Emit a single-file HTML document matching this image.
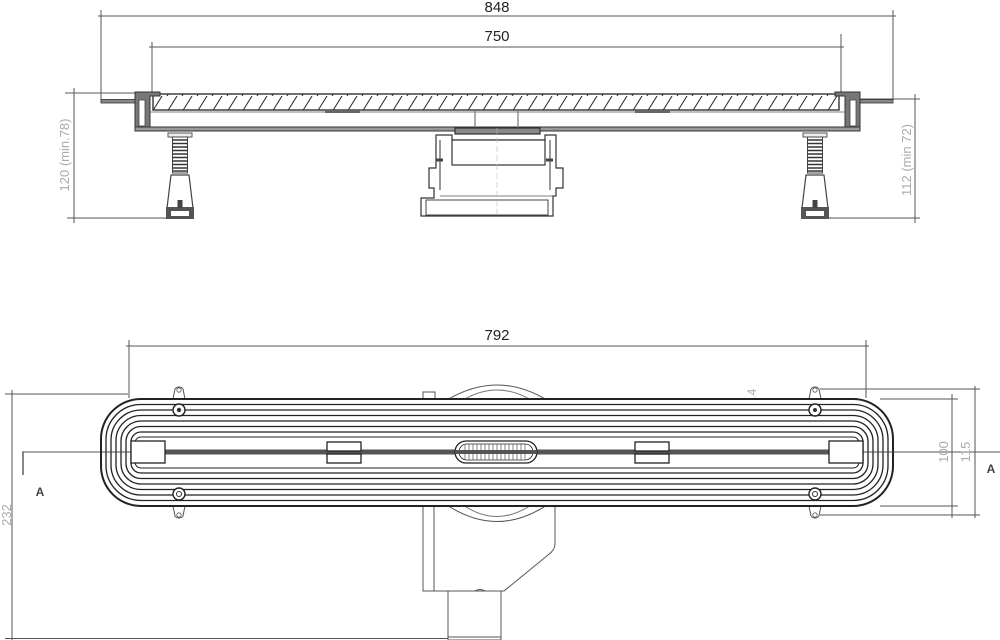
<!DOCTYPE html>
<html><head><meta charset="utf-8"><style>
html,body{margin:0;padding:0;background:#fff;}
svg{display:block;font-family:"Liberation Sans",sans-serif;}
</style></head><body>
<svg width="1000" height="640" viewBox="0 0 1000 640" xmlns="http://www.w3.org/2000/svg">
<defs>
<pattern id="hatch" width="15" height="16" patternUnits="userSpaceOnUse">
<line x1="2" y1="16" x2="12" y2="0" stroke="#333" stroke-width="1.1"/>
</pattern>
<g id="leg">
<rect x="-12" y="133" width="24" height="4" fill="#eee" stroke="#555" stroke-width="1"/>
<rect x="-7.5" y="137" width="15" height="36" fill="#fff" stroke="#444" stroke-width="1"/>
<path d="M-7.5 140 H7.5 M-7.5 143.5 H7.5 M-7.5 147 H7.5 M-7.5 150.5 H7.5 M-7.5 154 H7.5 M-7.5 157.5 H7.5 M-7.5 161 H7.5 M-7.5 164.5 H7.5 M-7.5 168 H7.5 M-7.5 171 H7.5" stroke="#333" stroke-width="1.6"/>
<path d="M-9 175 H9 L13 208 H-13 Z" fill="#fff" stroke="#444" stroke-width="1.2"/>
<rect x="-14" y="207" width="28" height="12" fill="#555"/>
<rect x="-9" y="211" width="18" height="5" fill="#fff"/>
<rect x="-2.5" y="200" width="5" height="8" fill="#444"/>
</g>
<g id="tab">
<path d="M-6 0 L-4 -10 A5 5 0 0 1 4 -10 L6 0 Z" fill="#fff" stroke="#555" stroke-width="1"/>
<circle cx="0" cy="-9" r="2.2" fill="none" stroke="#555" stroke-width="0.8"/>
</g>
</defs>

<!-- ===== TOP VIEW ===== -->
<g stroke="#555" stroke-width="1" fill="none">
<line x1="101" y1="10" x2="101" y2="100"/>
<line x1="893" y1="10" x2="893" y2="100"/>
<line x1="98" y1="16" x2="896" y2="16"/>
<line x1="152" y1="42" x2="152" y2="93"/>
<line x1="841" y1="34" x2="841" y2="93"/>
<line x1="149" y1="47" x2="844" y2="47"/>
<line x1="65" y1="93" x2="135" y2="93"/>
<line x1="67" y1="218" x2="178" y2="218"/>
<line x1="74" y1="88" x2="74" y2="223"/>
<line x1="860" y1="99" x2="920" y2="99"/>
<line x1="815" y1="218" x2="920" y2="218"/>
<line x1="915" y1="94" x2="915" y2="223"/>
</g>
<text x="497" y="12" font-size="15" text-anchor="middle" fill="#222">848</text>
<text x="497" y="41" font-size="15" text-anchor="middle" fill="#222">750</text>
<text transform="translate(69,155) rotate(-90)" font-size="13" text-anchor="middle" fill="#aaa">120 (min.78)</text>
<text transform="translate(911,160) rotate(-90)" font-size="13" text-anchor="middle" fill="#aaa">112 (min 72)</text>

<rect x="153" y="94" width="686" height="16" fill="url(#hatch)" stroke="#333" stroke-width="1.4"/>
<rect x="101" y="99.5" width="34" height="3.5" fill="#888" stroke="#333" stroke-width="0.8"/>
<rect x="860" y="99.5" width="33" height="3.5" fill="#888" stroke="#333" stroke-width="0.8"/>
<path d="M135 92 H160 V96 H150 V128 H135 Z" fill="#777" stroke="#333" stroke-width="1"/>
<rect x="139" y="100" width="6" height="26" fill="#fff" stroke="#444" stroke-width="0.8"/>
<path d="M860 92 H835 V96 H845 V128 H860 Z" fill="#777" stroke="#333" stroke-width="1"/>
<rect x="850" y="100" width="6" height="26" fill="#fff" stroke="#444" stroke-width="0.8"/>
<rect x="135" y="127" width="725" height="4" fill="#999" stroke="#333" stroke-width="1"/>
<line x1="150" y1="112" x2="845" y2="112" stroke="#555" stroke-width="0.8"/>
<rect x="325" y="110" width="35" height="3" fill="#666"/>
<rect x="635" y="110" width="35" height="3" fill="#666"/>
<use href="#leg" x="180"/>
<use href="#leg" x="815"/>
<g stroke="#333" fill="#fff" stroke-width="1.2">
<line x1="475" y1="110" x2="475" y2="128" stroke="#777"/>
<line x1="518" y1="110" x2="518" y2="128" stroke="#777"/>
<path d="M455 128 H540 V134 H455 Z" fill="#888"/>
<path d="M440 135 H452 V140 H545 V135 H556 V168 H563 V188 H556 V196 H553 V216 H421 V198 H434 V188 H429 V168 H436 V135 Z"/>
<rect x="452" y="140" width="93" height="25" fill="#fff"/>
<path d="M440 140 V190 M550 140 V190" stroke="#555"/>
<path d="M436 160 H443 M546 160 H553" stroke="#444" stroke-width="3"/>
<rect x="426" y="200" width="122" height="15" fill="#fff" stroke="#444" stroke-width="1"/>
<line x1="440" y1="196" x2="556" y2="196" stroke="#555" stroke-width="0.8"/>
</g>
<line x1="497" y1="128" x2="497" y2="218" stroke="#bbb" stroke-width="0.6" stroke-dasharray="6 3"/>

<!-- ===== BOTTOM VIEW ===== -->
<g stroke="#555" stroke-width="1" fill="none">
<line x1="126" y1="346" x2="869" y2="346"/>
<line x1="129" y1="340" x2="129" y2="398"/>
<line x1="866" y1="340" x2="866" y2="398"/>
<line x1="5" y1="394" x2="128" y2="394"/>
<line x1="12" y1="390" x2="12" y2="640"/>
<line x1="5" y1="638.5" x2="500" y2="638.5"/>
<line x1="820" y1="389" x2="980" y2="389"/>
<line x1="880" y1="399" x2="958" y2="399"/>
<line x1="880" y1="506" x2="958" y2="506"/>
<line x1="820" y1="515" x2="980" y2="515"/>
<line x1="952" y1="394" x2="952" y2="518"/>
<line x1="975" y1="386" x2="975" y2="518"/>
<line x1="22" y1="452" x2="1000" y2="452"/>
<line x1="23" y1="452" x2="23" y2="475" stroke-width="1.4"/>
<line x1="755" y1="395" x2="755" y2="450" stroke="#ccc" stroke-width="0.6"/>
</g>
<text x="497" y="340" font-size="15" text-anchor="middle" fill="#222">792</text>
<text transform="translate(11,515) rotate(-90)" font-size="13" text-anchor="middle" fill="#aaa">232</text>
<text transform="translate(948,452) rotate(-90)" font-size="13" text-anchor="middle" fill="#aaa">100</text>
<text transform="translate(970,452) rotate(-90)" font-size="13" text-anchor="middle" fill="#aaa">115</text>
<text transform="translate(756,392) rotate(-90)" font-size="12" text-anchor="middle" fill="#aaa">4</text>
<text x="40" y="496" font-size="12" font-weight="bold" text-anchor="middle" fill="#444">A</text>
<text x="991" y="473" font-size="12" font-weight="bold" text-anchor="middle" fill="#444">A</text>

<g stroke="#555" fill="#fff" stroke-width="1">
<rect x="423" y="392" width="12" height="8"/>
<path d="M447 400 Q497 370 547 400"/>
<path d="M463 400 Q497 380 531 400" stroke="#777"/>
<path d="M423 506 V591 H475 Q480 588 485 591 H504 L548 555 Q555 550 555 544 V506 Z"/>
<path d="M447 505 Q497 538 547 505"/>
<path d="M463 505 Q497 528 531 505" stroke="#777"/>
<line x1="434" y1="506" x2="434" y2="591"/>
<rect x="448" y="591" width="53" height="49"/>
<line x1="448" y1="637" x2="501" y2="637"/>
</g>

<use href="#tab" x="179" y="399"/>
<use href="#tab" x="815" y="399"/>
<use href="#tab" x="179" y="506" transform="translate(0,1012) scale(1,-1)"/>
<use href="#tab" x="815" y="506" transform="translate(0,1012) scale(1,-1)"/>

<g fill="none" stroke="#222">
<rect x="101" y="399" width="792" height="107" rx="40" fill="#fff" stroke-width="2"/>
<rect x="106" y="404.5" width="782" height="96" rx="35" stroke-width="1.3"/>
<rect x="111" y="410" width="772" height="85" rx="30" stroke-width="1.3"/>
<rect x="116" y="415.5" width="762" height="74" rx="25" stroke-width="1.3"/>
<rect x="121" y="421" width="752" height="63" rx="20" stroke-width="1.3"/>
<rect x="126" y="426.5" width="742" height="52" rx="15" stroke-width="1.3"/>
<rect x="131" y="432" width="732" height="41" rx="10" stroke-width="1.3"/>
<rect x="135" y="437" width="724" height="31" rx="6" stroke-width="1"/>
</g>
<line x1="101" y1="452" x2="893" y2="452" stroke="#444" stroke-width="1"/>
<rect x="160" y="449.5" width="670" height="5" fill="#555"/>
<g fill="#fff" stroke="#222" stroke-width="1.3">
<rect x="131" y="441" width="34" height="22"/>
<rect x="829" y="441" width="34" height="22"/>
<rect x="327" y="442" width="34" height="9"/>
<rect x="327" y="454" width="34" height="9"/>
<rect x="635" y="442" width="34" height="9"/>
<rect x="635" y="454" width="34" height="9"/>
<rect x="455" y="441" width="82" height="22" rx="11"/>
<rect x="459" y="444" width="74" height="16" rx="8" stroke-width="0.8"/>
</g>
<path d="M465 444 V460 M469 444 V460 M473 444 V460 M477 444 V460 M481 444 V460 M485 444 V460 M489 444 V460 M493 444 V460 M497 444 V460 M501 444 V460 M505 444 V460 M509 444 V460 M513 444 V460 M517 444 V460 M521 444 V460 M525 444 V460" stroke="#555" stroke-width="0.7"/>
<rect x="455" y="450" width="82" height="4" fill="#555"/>
<g fill="#fff" stroke="#222" stroke-width="1.4">
<circle cx="179" cy="410" r="6"/><circle cx="815" cy="410" r="6"/>
<circle cx="179" cy="494" r="6"/><circle cx="815" cy="494" r="6"/>
</g>
<g fill="#333"><circle cx="179" cy="410" r="2.2"/><circle cx="815" cy="410" r="2"/></g>
<g fill="none" stroke="#333"><circle cx="179" cy="494" r="2.5"/><circle cx="815" cy="494" r="2.5"/></g>
</svg>
</body></html>
